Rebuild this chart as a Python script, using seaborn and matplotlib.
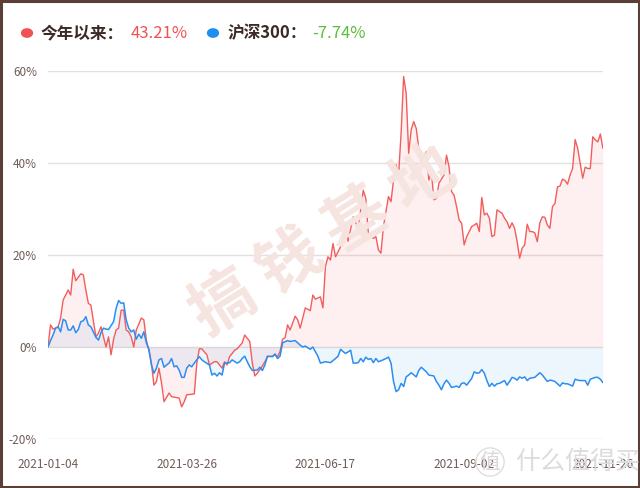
import numpy as np
import pandas as pd
import matplotlib
matplotlib.use("Agg")
import matplotlib.pyplot as plt
import seaborn as sns
from matplotlib.patches import Rectangle, Circle

# trading-day index (0 = 2021-01-04) and cumulative return in %
red_day = [0, 1, 2, 4, 5, 6, 8, 9, 10, 11, 13, 14, 15, 16, 17, 19, 20, 21, 23, 24,
           25, 26, 27, 28, 29, 30, 31, 32, 33, 34, 35, 37, 38, 39, 40, 41, 42, 43, 44, 45,
           46, 48, 49, 51, 52, 53, 54, 55, 58, 59, 60, 61, 63, 64, 66, 67, 69, 70, 71, 72,
           74, 75, 77, 78, 80, 81, 82, 83, 85, 86, 87, 89, 90, 91, 92, 93, 94, 95, 96, 98,
           99, 100, 102, 104, 105, 106, 108, 109, 110, 111, 112, 113, 114, 116, 117, 118, 119, 121, 123, 125,
           126, 127, 129, 130, 131, 132, 133, 135, 136, 137, 138, 139, 140, 141, 142, 143, 144, 145, 146, 147,
           148, 150, 151, 152, 153, 154, 155, 157, 158, 159, 160, 161, 162, 163, 164, 165, 166, 168, 169, 170,
           171, 172, 173, 174, 175, 176, 177, 178, 180, 181, 182, 183, 184, 185, 186, 187, 188, 189, 190, 191,
           192, 193, 194, 195, 196, 197, 198, 199, 200, 201, 202, 203, 204, 205, 206, 207, 208, 209, 210, 211,
           212, 213, 214, 215, 216, 217, 218, 219, 220]
red_ret = [0.0, 4.8, 3.9, 4.3, 6.3, 10.2, 12.4, 11.3, 16.9, 14.4, 15.9, 15.7, 12.4, 9.5, 9.1, 2.2, 3.0, 4.4, 0.0, 2.2,
           -1.7, 1.7, 3.7, 4.1, 8.0, 8.0, 3.7, 3.3, 2.2, 0.0, 3.7, 6.3, 5.9, 1.5, -0.7, -3.5, -8.3, -7.5, -4.6, -7.8,
           -11.9, -10.0, -10.8, -11.0, -11.1, -13.0, -11.9, -10.4, -10.2, -3.5, -0.4, -0.4, -1.7, -3.9, -3.2, -3.2, -4.6, -3.2, -3.9, -2.1,
           -0.7, -0.4, 0.9, 2.6, 1.2, -3.5, -6.3, -5.7, -4.1, -3.2, -2.1, -2.0, -1.7, -2.1, -1.0, 1.7, 2.0, 4.8, 3.7, 6.7,
           5.9, 4.1, 8.5, 7.9, 11.3, 10.4, 10.9, 8.5, 17.5, 19.6, 18.9, 22.5, 19.6, 21.8, 23.5, 26.3, 23.0, 28.3, 25.8, 34.1,
           32.3, 24.7, 23.6, 24.0, 21.1, 20.4, 26.2, 32.7, 31.6, 36.3, 39.6, 37.4, 46.5, 58.8, 55.2, 42.1, 47.2, 49.0, 47.5, 43.2,
           40.1, 42.5, 36.3, 38.1, 32.0, 32.3, 35.6, 37.4, 41.7, 39.2, 33.8, 33.0, 30.5, 27.6, 26.9, 22.2, 24.0, 26.2, 26.5, 26.9,
           25.1, 32.5, 28.7, 29.1, 28.0, 24.0, 24.3, 29.8, 29.1, 28.0, 27.2, 25.8, 27.0, 25.8, 22.9, 19.3, 21.5, 22.2, 26.7, 25.1,
           25.1, 24.8, 22.9, 27.0, 28.3, 28.2, 26.5, 25.8, 30.5, 31.2, 34.8, 35.0, 36.5, 36.2, 35.4, 37.4, 38.8, 45.1, 43.2, 39.9,
           36.7, 39.1, 38.8, 38.8, 45.7, 45.0, 44.6, 46.3, 43.21]

blue_day = [0, 1, 2, 3, 4, 5, 6, 7, 8, 9, 10, 11, 12, 13, 14, 15, 16, 17, 19, 20,
            21, 22, 23, 24, 26, 27, 28, 29, 30, 31, 32, 33, 34, 35, 36, 37, 38, 39, 40, 41,
            42, 43, 44, 45, 46, 47, 48, 49, 50, 51, 52, 53, 54, 55, 56, 57, 58, 59, 60, 61,
            62, 64, 65, 66, 67, 68, 69, 70, 71, 72, 73, 75, 76, 77, 78, 79, 80, 81, 83, 84,
            85, 86, 87, 89, 90, 91, 92, 93, 95, 96, 98, 100, 101, 102, 104, 105, 106, 107, 108, 110,
            112, 114, 115, 116, 117, 118, 120, 121, 122, 123, 124, 125, 126, 127, 128, 129, 130, 131, 132, 134,
            135, 136, 137, 138, 139, 140, 141, 142, 143, 144, 146, 147, 148, 150, 151, 153, 154, 155, 156, 157,
            158, 159, 160, 162, 163, 164, 165, 166, 168, 169, 170, 171, 172, 173, 174, 175, 176, 177, 178, 179,
            181, 182, 183, 184, 185, 186, 187, 188, 189, 190, 191, 193, 194, 195, 196, 197, 198, 199, 200, 201,
            203, 204, 205, 206, 208, 209, 210, 211, 213, 214, 215, 217, 218, 219, 220]
blue_ret = [0.0, 1.4, 2.6, 4.1, 4.4, 3.3, 6.0, 5.7, 3.7, 3.7, 4.6, 3.1, 3.8, 5.5, 5.7, 6.6, 4.8, 4.4, 2.1, 1.5,
            3.1, 4.1, 3.9, 3.8, 5.5, 8.4, 10.1, 9.5, 9.6, 5.9, 4.1, 3.3, 3.7, 1.7, 2.8, 1.9, 3.3, 0.9, -0.5, -3.9,
            -5.7, -4.6, -2.8, -2.5, -4.4, -3.9, -3.5, -2.5, -4.3, -4.1, -5.0, -6.6, -6.6, -4.6, -3.9, -4.3, -3.5, -2.8, -2.1, -2.8,
            -3.2, -3.9, -6.1, -5.7, -6.3, -5.6, -6.1, -3.5, -3.5, -3.4, -2.8, -3.5, -3.2, -2.5, -2.0, -3.2, -4.3, -5.1, -5.0, -4.4,
            -5.1, -3.9, -2.0, -2.1, -1.5, -2.5, -2.0, 0.9, 1.4, 1.2, 1.4, 0.4, 0.0, 0.2, -0.5, 0.0, -1.0, -2.0, -3.5, -3.2,
            -3.4, -2.5, -2.0, -0.5, -1.0, -1.4, -0.7, -3.5, -3.5, -3.4, -2.5, -3.2, -2.2, -2.7, -2.5, -3.4, -2.5, -3.2, -3.0, -2.5,
            -2.2, -3.5, -7.5, -9.7, -9.3, -7.9, -8.6, -6.5, -6.1, -5.6, -6.5, -5.1, -4.4, -5.4, -6.1, -6.3, -7.5, -8.3, -9.3, -8.0,
            -7.2, -7.9, -8.8, -8.5, -8.8, -7.9, -7.8, -8.3, -6.8, -5.4, -5.7, -5.6, -4.9, -5.7, -7.3, -8.6, -7.9, -8.5, -8.0, -7.9,
            -7.3, -8.3, -7.5, -6.6, -6.8, -7.2, -6.5, -6.8, -6.5, -7.3, -6.8, -6.6, -6.1, -5.6, -6.1, -6.8, -7.5, -7.2, -7.3, -7.5,
            -8.5, -7.8, -8.0, -8.0, -8.5, -7.0, -7.2, -7.3, -7.3, -8.3, -7.0, -6.6, -6.6, -7.0, -7.74]

tick_days = [0, 55, 110, 165, 220]
tick_dates = ["2021-01-04", "2021-03-26", "2021-06-17", "2021-09-02", "2021-11-26"]
y_ticks = [-20, 0, 20, 40, 60]

legend_names = ["今年以来：", "沪深300："]
legend_values = ["43.21%", "-7.74%"]

red = "#f45c5c"
blue = "#2b8ef0"
text_col = "#6f5c57"

sns.set_style("white")
plt.rcParams["font.family"] = ["Noto Sans CJK SC", "DejaVu Sans"]

red_df = pd.DataFrame({"day": red_day, "ret": red_ret})
blue_df = pd.DataFrame({"day": blue_day, "ret": blue_ret})

fig = plt.figure(figsize=(6.4, 4.88), dpi=100)
ax = fig.add_axes([0.075, 0.1004, 0.867, 0.7541])

# watermark behind the data
fig.text(0.505, 0.505, "搞 钱 基 地", fontsize=46, color="#f5e4e0", rotation=32,
         ha="center", va="center", fontweight="bold", zorder=0)

ax.set_facecolor("none")
ax.fill_between(red_df["day"], red_df["ret"], 0, color=red, alpha=0.09, lw=0)
ax.fill_between(blue_df["day"], blue_df["ret"], 0, color=blue, alpha=0.08, lw=0)
sns.lineplot(data=red_df, x="day", y="ret", color=red, linewidth=1.0, ax=ax)
sns.lineplot(data=blue_df, x="day", y="ret", color=blue, linewidth=1.1, ax=ax)

ax.set_xlim(0, 220)
ax.set_ylim(-20, 60)
ax.set_yticks(y_ticks)
ax.set_yticklabels([f"{v}%" for v in y_ticks])
ax.set_xticks(tick_days)
ax.set_xticklabels(tick_dates)
ax.tick_params(axis="both", length=0, labelsize=8.5, colors=text_col)
ax.tick_params(axis="y", pad=8)
ax.tick_params(axis="x", pad=14)
ax.grid(axis="y", color="#e3e0e0", linewidth=1)
ax.set_axisbelow(True)
ax.set_xlabel("")
ax.set_ylabel("")
for s in ax.spines.values():
    s.set_visible(False)

# legend header
fig.patches.append(Circle((27 / 640, 1 - 33 / 488), 0.0085, transform=fig.transFigure,
                          color="#f05252", figure=fig))
fig.text(41 / 640, 1 - 33 / 488, legend_names[0], fontsize=12, fontweight="bold",
         color="#3b2a25", va="center")
fig.text(131 / 640, 1 - 33 / 488, legend_values[0], fontsize=12, color="#f05252", va="center")
fig.patches.append(Circle((213 / 640, 1 - 33 / 488), 0.0085, transform=fig.transFigure,
                          color="#1f8ef1", figure=fig))
fig.text(228 / 640, 1 - 33 / 488, legend_names[1], fontsize=12, fontweight="bold",
         color="#3b2a25", va="center")
fig.text(312 / 640, 1 - 33 / 488, legend_values[1], fontsize=12, color="#5cbd3c", va="center")

# site watermark bottom right
fig.text(490 / 640, 1 - 462 / 488, "值", fontsize=15, color="#d9d9d9", ha="center", va="center",
         bbox=dict(boxstyle="circle,pad=0.15", fc="none", ec="#dedede", lw=1))
fig.text(515 / 640, 1 - 462 / 488, "什么值得买", fontsize=18, color="#dcdcdc", va="center")

# brown frame
fig.patches.append(Rectangle((0.0015, 0.002), 0.997, 0.996, transform=fig.transFigure,
                             fill=False, ec="#5a3f37", lw=2.2, figure=fig))

fig.savefig("out.png", dpi=100)
